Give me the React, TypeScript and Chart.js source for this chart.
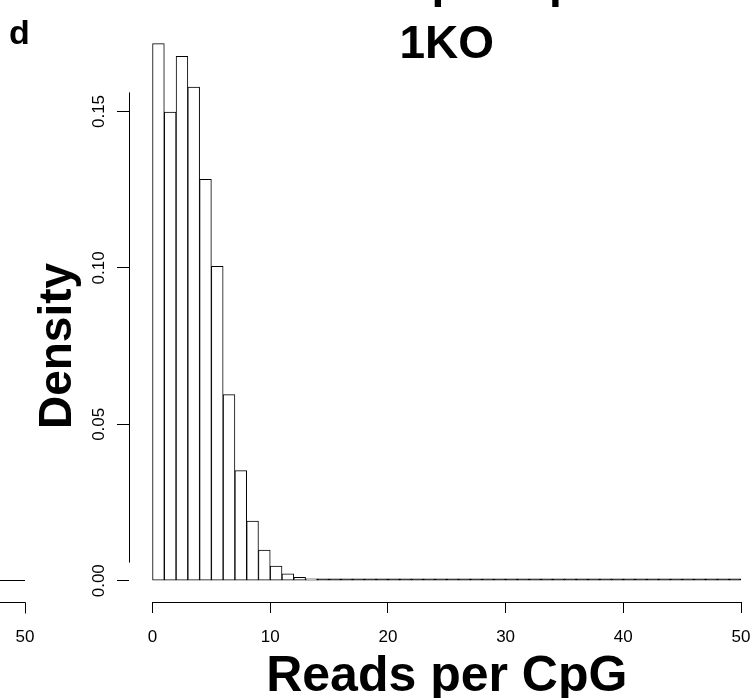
import React, { useEffect, useRef } from "react";
import { Chart, registerables } from "chart.js";

Chart.register(...registerables);

// Histogram bins (left edges, width 1) and their densities
const binStarts: number[] = Array.from({ length: 50 }, (_, i) => i);
const densities: number[] = [
  0.1717, 0.1498, 0.1676, 0.1578, 0.1283, 0.1005, 0.0595, 0.0352, 0.0191, 0.0098,
  0.0047, 0.0022, 0.0011, 0.0005, 0.0003, 0.0002, 0.00015, 0.0001, 0.0001, 0.00008,
  0.00006, 0.00005, 0.00004, 0.00003, 0.00003, 0.00002, 0.00002, 0.00002, 0.00001, 0.00001,
  0.00001, 0.00001, 0.00001, 0.00001, 0.00001, 0.00001, 0.00001, 0.00001, 0.00001, 0.00001,
  0.00001, 0.00001, 0.00001, 0.00001, 0.00001, 0.00001, 0.00001, 0.00001, 0.00001, 0.00001,
];

const xTicks: number[] = [0, 10, 20, 30, 40, 50];
const yTicks: number[] = [0, 0.05, 0.1, 0.15];
const yTickLabels: string[] = ["0.00", "0.05", "0.10", "0.15"];

const titleLines: string[] = ["Reads per CpG", "1KO"];
const xTitle = "Reads per CpG";
const yTitle = "Density";
const panelLetter = "d";
const leftPanelTickLabel = "50";

const FONT = "'Liberation Sans', Arial, Helvetica, sans-serif";

const decorPlugin = {
  id: "decor",
  afterDraw(chart: any) {
    const ctx = chart.ctx as CanvasRenderingContext2D;
    const xs = chart.scales.x;
    const ys = chart.scales.y;
    const area = chart.chartArea;
    ctx.save();
    ctx.strokeStyle = "#000";
    ctx.fillStyle = "#000";
    ctx.lineWidth = 1;

    // x axis line (from first to last tick)
    const xb = Math.floor(area.bottom) + 0.5;
    ctx.beginPath();
    ctx.moveTo(Math.floor(xs.getPixelForValue(xTicks[0])), xb);
    ctx.lineTo(Math.floor(xs.getPixelForValue(xTicks[xTicks.length - 1])) + 1, xb);
    ctx.stroke();

    // y axis line
    const yl = Math.floor(area.left) + 0.5;
    ctx.beginPath();
    ctx.moveTo(yl, ys.getPixelForValue(0.1561));
    ctx.lineTo(yl, ys.getPixelForValue(0.0058));
    ctx.stroke();

    // y tick labels (rotated, R style)
    ctx.font = `17px ${FONT}`;
    ctx.textAlign = "center";
    ctx.textBaseline = "alphabetic";
    ys.ticks.forEach((t: any, i: number) => {
      const py = ys.getPixelForValue(t.value);
      ctx.save();
      ctx.translate(104, py);
      ctx.rotate(-Math.PI / 2);
      ctx.fillText(yTickLabels[i] ?? String(t.value), 0, 0);
      ctx.restore();
    });

    // remnants of the neighbouring panel on the left
    const y0 = Math.floor(ys.getPixelForValue(0)) + 0.5;
    ctx.beginPath();
    ctx.moveTo(0, y0);
    ctx.lineTo(25, y0);
    ctx.stroke();
    ctx.beginPath();
    ctx.moveTo(0, xb);
    ctx.lineTo(25.5, xb);
    ctx.lineTo(25.5, xb + 11);
    ctx.stroke();
    ctx.textBaseline = "middle";
    ctx.fillText(leftPanelTickLabel, 25, 637);

    // titles
    const cx = (xs.getPixelForValue(-2) + xs.getPixelForValue(52)) / 2;
    ctx.font = `bold 46px ${FONT}`;
    ctx.textAlign = "center";
    ctx.textBaseline = "alphabetic";
    ctx.fillText(titleLines[0], cx, -3);
    ctx.fillText(titleLines[1], cx, 58);

    // x title
    ctx.font = `bold 50px ${FONT}`;
    ctx.fillText(xTitle, cx, 691);

    // y title
    ctx.font = `bold 46px ${FONT}`;
    ctx.save();
    ctx.translate(71, 346);
    ctx.rotate(-Math.PI / 2);
    ctx.fillText(yTitle, 0, 0);
    ctx.restore();

    // panel letter
    ctx.font = `bold 34px ${FONT}`;
    ctx.textAlign = "left";
    ctx.fillText(panelLetter, 9, 44);

    ctx.restore();
  },
};

export default function App() {
  const ref = useRef<HTMLCanvasElement | null>(null);

  useEffect(() => {
    if (!ref.current) return;
    Chart.defaults.font.family = FONT;
    const chart = new Chart(ref.current, {
      type: "bar",
      data: {
        datasets: [
          {
            data: binStarts.map((b, i) => ({ x: b + 0.5, y: densities[i] })),
            backgroundColor: (c: any) => {
              const v = c.raw && typeof c.raw.y === "number" ? c.raw.y : 1;
              return v < 0.0004 ? "#000000" : "#ffffff";
            },
            borderColor: "#000000",
            borderWidth: 1,
            borderSkipped: false,
            barPercentage: 1,
            categoryPercentage: 1,
            minBarLength: 2,
          } as any,
        ],
      },
      options: {
        responsive: false,
        animation: false,
        devicePixelRatio: 1,
        layout: { padding: { top: 22, right: 14, left: 0, bottom: 0 } },
        plugins: { legend: { display: false }, tooltip: { enabled: false }, title: { display: false } },
        scales: {
          x: {
            type: "linear",
            offset: false,
            min: -2,
            max: 50,
            afterBuildTicks: (s: any) => {
              s.ticks = xTicks.map((v) => ({ value: v }));
            },
            afterFit: (s: any) => {
              s.height = 96;
              s.paddingLeft = 0;
              s.paddingRight = 0;
            },
            grid: { display: true, offset: false, drawOnChartArea: false, drawTicks: true, tickLength: 11, color: "#000", lineWidth: 1 },
            border: { display: false },
            ticks: { color: "#000", font: { size: 17, family: FONT }, padding: 14, maxRotation: 0, autoSkip: false },
          },
          y: {
            type: "linear",
            min: -0.0068,
            max: 0.1786,
            afterBuildTicks: (s: any) => {
              s.ticks = yTicks.map((v) => ({ value: v }));
            },
            afterFit: (s: any) => {
              s.width = 129;
              s.paddingTop = 0;
              s.paddingBottom = 0;
            },
            grid: { display: true, drawOnChartArea: false, drawTicks: true, tickLength: 12, color: "#000", lineWidth: 1 },
            border: { display: false },
            ticks: { display: false },
          },
        },
      } as any,
      plugins: [decorPlugin],
    });
    return () => chart.destroy();
  }, []);

  return (
    <div style={{ position: "absolute", left: 0, top: 0, width: 755, height: 698, background: "#fff" }}>
      <canvas ref={ref} width={755} height={698} style={{ display: "block" }} />
    </div>
  );
}
